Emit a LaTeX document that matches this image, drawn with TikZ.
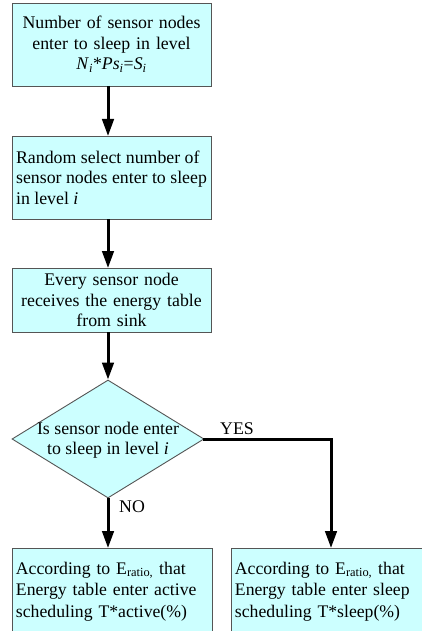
\documentclass[tikz,border=0pt]{standalone}
\usepackage{fontspec}
\setmainfont{Liberation Serif}
\usetikzlibrary{arrows.meta,shapes.geometric}
\definecolor{boxfill}{HTML}{CCFFFF}
\definecolor{boxline}{HTML}{555555}
\tikzset{
  x=1pt, y=-1pt,
  txt/.style={font=\fontsize{17.8}{20.5}\selectfont},
  procbox/.style={txt, draw=boxline, line width=0.9pt, fill=boxfill, rectangle,
    minimum width=199pt, minimum height=83pt, inner xsep=3pt, inner ysep=0pt},
  lowbox/.style={font=\fontsize{17.7}{21.7}\selectfont, draw=boxline, line width=0.9pt, fill=boxfill,
    rectangle, anchor=north west, inner xsep=3.5pt, inner ysep=13.5pt, text width=193pt, align=left,
    minimum width=199pt},
  decbox/.style={diamond, draw=boxline, line width=0.9pt, fill=boxfill, inner sep=0pt,
    minimum width=192pt, minimum height=118pt},
  flow/.style={line width=3pt, -{Triangle[length=17pt,width=11.5pt]}},
  lbl/.style={txt, inner sep=0pt}
}
\begin{document}
\begin{tikzpicture}
\useasboundingbox (0,0) rectangle (422,631);
\clip (0,0) rectangle (422,631);

\node[procbox, text width=193pt, align=center] (b1) at (111.5,44.5)
  {Number of sensor nodes\\enter to sleep in level\\\textit{N}\textsubscript{\textit{i}}*\textit{Ps}\textsubscript{\textit{i}}=\textit{S}\textsubscript{\textit{i}}};
\node[procbox, align=left] (b2) at (111.5,177.5)
  {Random select number of\\sensor nodes enter to sleep\\in level \textit{i}};
\node[procbox, minimum height=64pt, text width=193pt, align=center] (b3) at (111.5,300)
  {Every sensor node\\receives the energy table\\from sink};

\node[decbox] (dec) at (108,439) {};
\node[txt, align=center, inner sep=0pt] (dect) at (108,440)
  {Is sensor node enter\\to sleep in level \textit{i}};

\node[lowbox] (la) at (12,548)
  {According to E\textsubscript{ratio,} that\\Energy table enter active\\scheduling T*active(\%)};
\node[lowbox] (ra) at (231,548)
  {According to E\textsubscript{ratio,} that\\Energy table enter sleep\\scheduling T*sleep(\%)};

\coordinate (turn) at (331,439);
\coordinate (b1s) at (108,86);
\coordinate (b2n) at (108,136);
\coordinate (b2s) at (108,219);
\coordinate (b3n) at (108,268);
\coordinate (lan) at (108,548);
\coordinate (ran) at (331,548);

\draw[flow] (b1s) -- (b2n);
\draw[flow] (b2s) -- (b3n);
\draw[flow] (b3.south -| dec.north) -- (dec.north);
\draw[flow] (dec.south) -- (lan);
\draw[flow, line cap=rect] (dec.east) -- (turn) -- (ran);

\node[lbl, anchor=west] (yes) at (220,429) {YES};
\node[lbl, anchor=west] (no) at (119,507) {NO};
\end{tikzpicture}
\end{document}
